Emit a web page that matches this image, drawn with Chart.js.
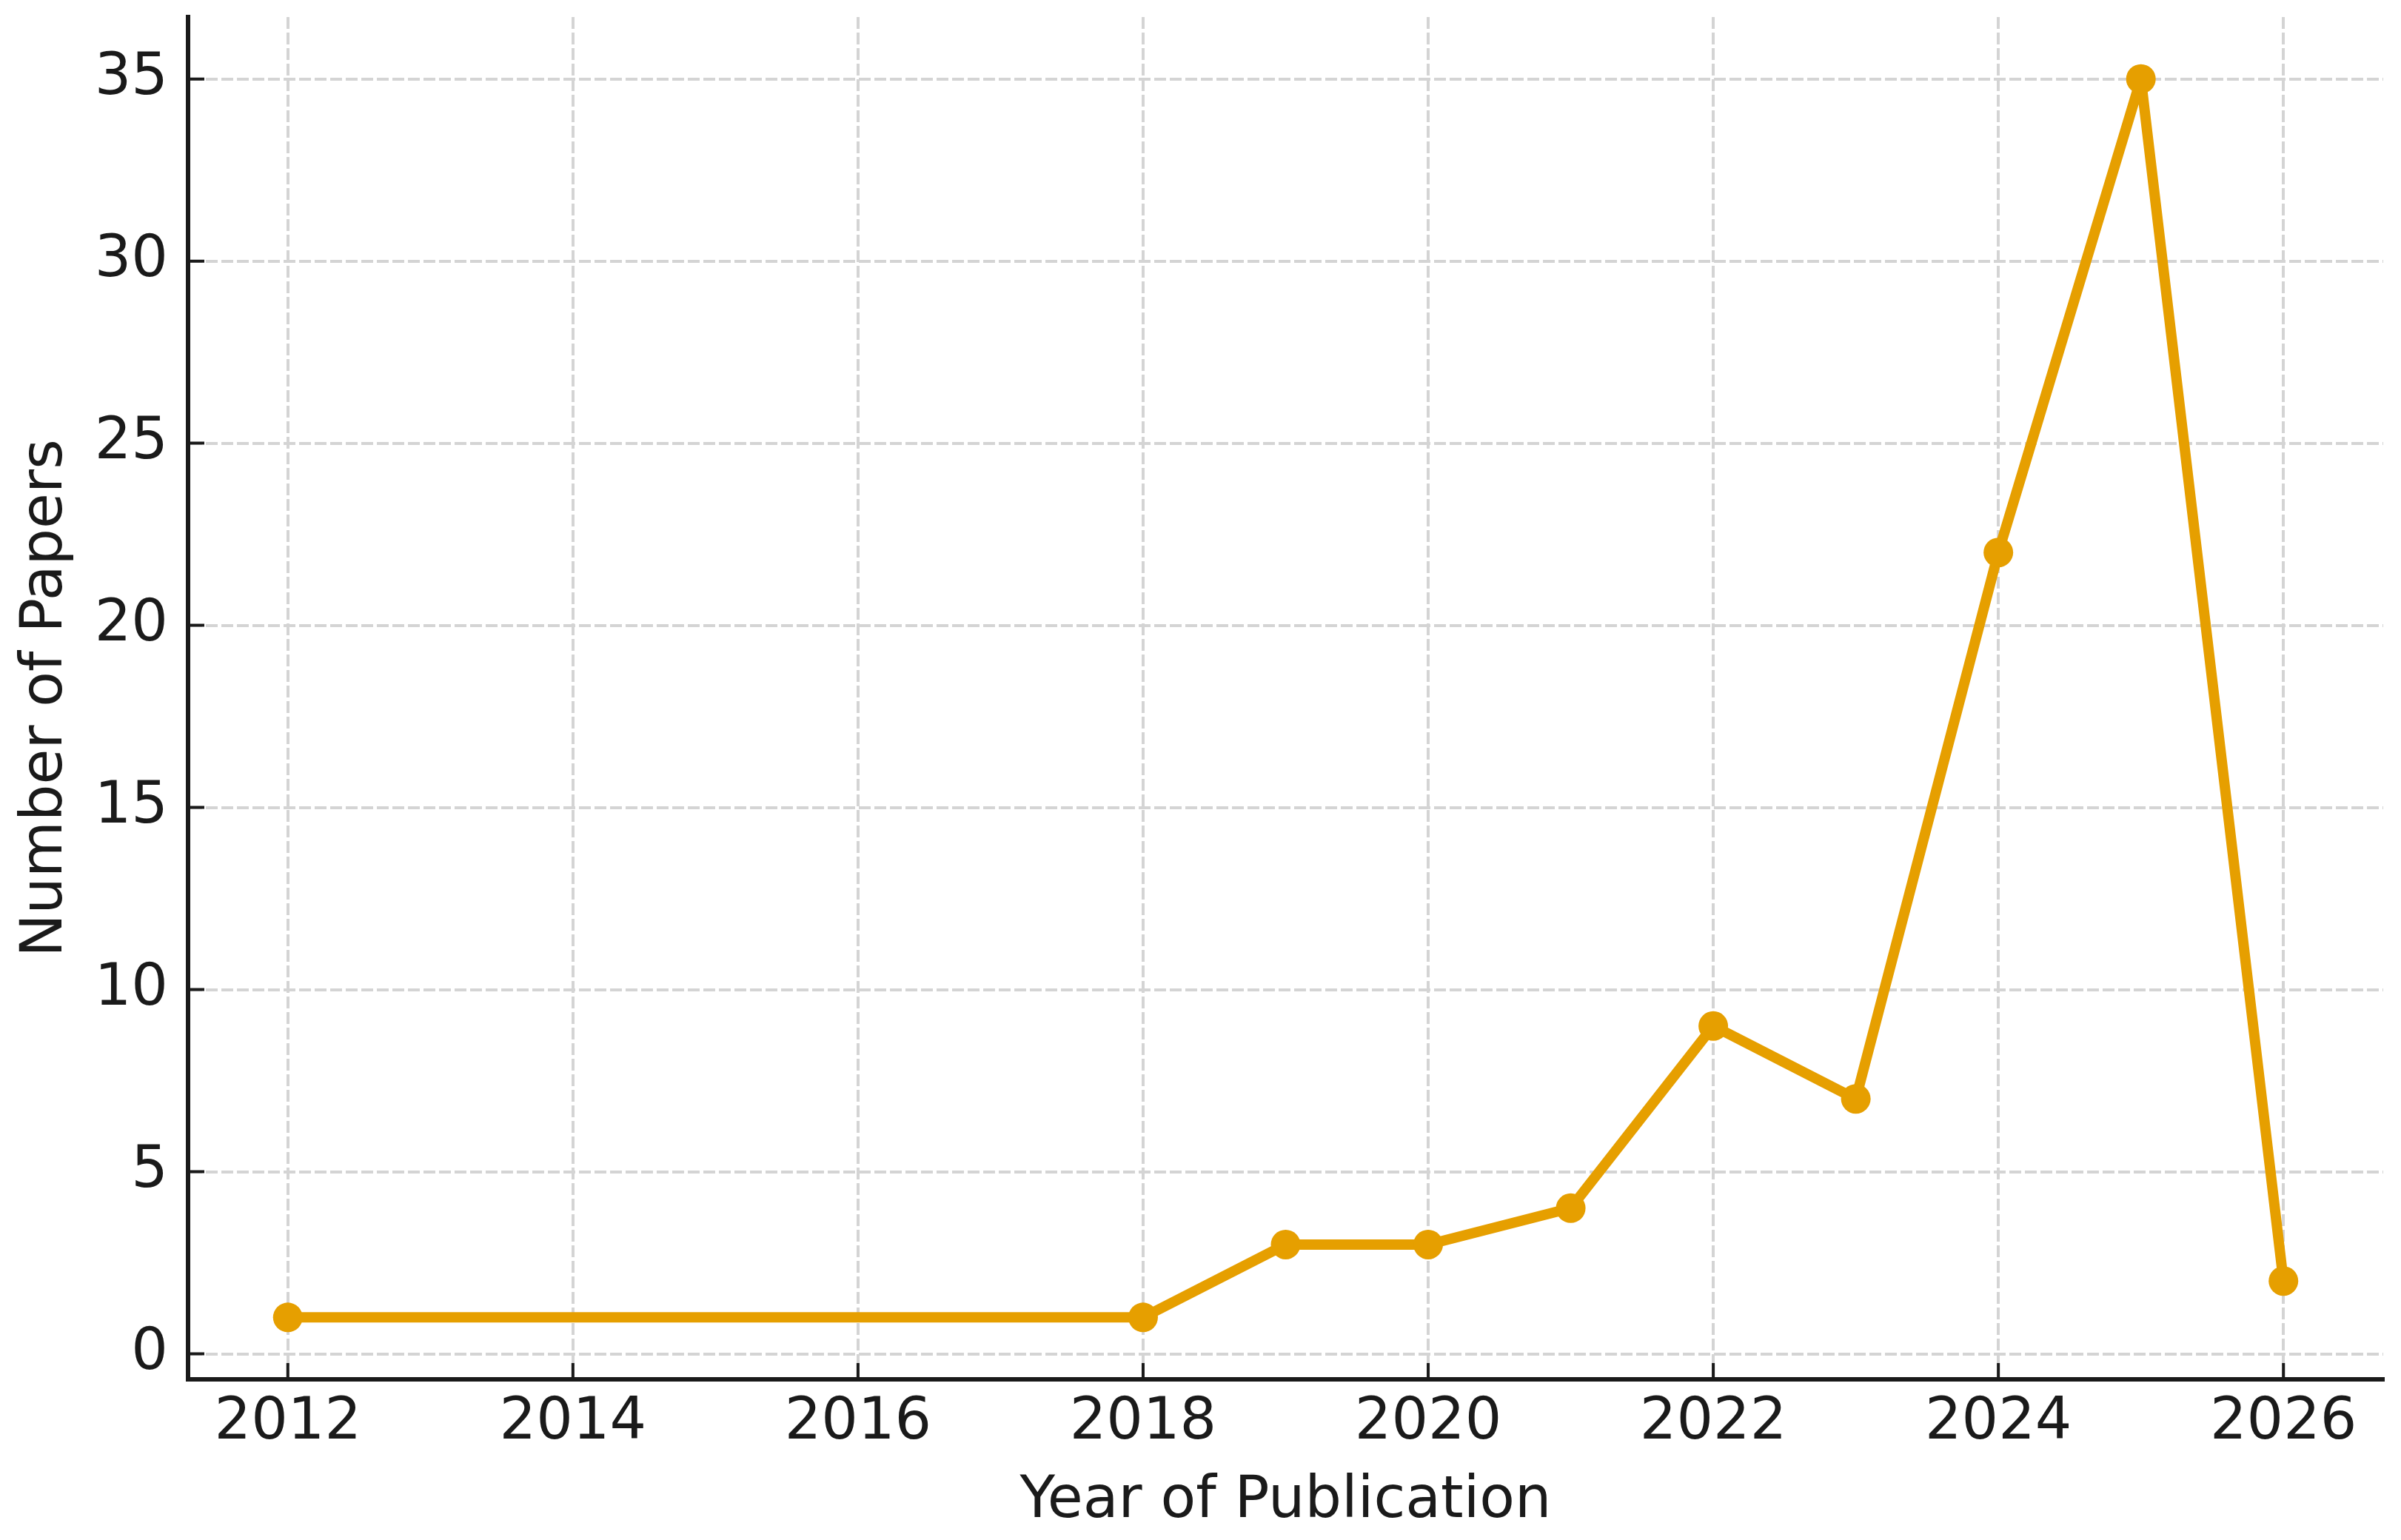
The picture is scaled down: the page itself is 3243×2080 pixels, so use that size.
<!DOCTYPE html>
<html>
<head>
<meta charset="utf-8">
<script src="https://cdn.jsdelivr.net/npm/chart.js@4"></script>
<style>
  html, body { margin: 0; padding: 0; background: #fff; }
  #paperChart { display: block; }
</style>
</head>
<body>
<canvas id="paperChart" width="3243" height="2080"></canvas>
<script>
// data
const years = [2012, 2018, 2019, 2020, 2021, 2022, 2023, 2024, 2025, 2026];
const papers = [1, 1, 3, 3, 4, 9, 7, 22, 35, 2];
const xTicks = [2012, 2014, 2016, 2018, 2020, 2022, 2024, 2026];
const yTicks = [0, 5, 10, 15, 20, 25, 30, 35];

const ink = '#1a1a1a';
const orange = '#E69F00';
const font = { family: '"DejaVu Sans"', size: 78 };

// matplotlib style inward ticks
const inwardTicks = {
    id: 'inwardTicks',
    afterDraw(chart) {
        const c = chart.ctx;
        const area = chart.chartArea;
        const xs = chart.scales.x, ys = chart.scales.y;
        c.save();
        c.strokeStyle = ink;
        c.lineWidth = 4;
        c.beginPath();
        xTicks.forEach(v => {
            const px = xs.getPixelForValue(v);
            c.moveTo(px, area.bottom);
            c.lineTo(px, area.bottom - 22);
        });
        yTicks.forEach(v => {
            const py = ys.getPixelForValue(v);
            c.moveTo(area.left, py);
            c.lineTo(area.left + 22, py);
        });
        c.stroke();
        c.restore();
    }
};

const ctx = document.getElementById('paperChart').getContext('2d');

new Chart(ctx, {
    type: 'line',
    data: {
        datasets: [{
            label: 'Papers',
            data: years.map((y, i) => ({ x: y, y: papers[i] })),
            borderColor: orange,
            backgroundColor: orange,
            borderWidth: 14,
            borderJoinStyle: 'round',
            pointRadius: 20,
            pointBorderWidth: 0,
            pointBackgroundColor: orange,
            tension: 0,
            clip: false
        }]
    },
    options: {
        responsive: false,
        devicePixelRatio: 1,
        animation: false,
        layout: { padding: { left: 0, top: 23, right: 24, bottom: 0 } },
        plugins: {
            legend: { display: false },
            tooltip: { enabled: false }
        },
        scales: {
            x: {
                type: 'linear',
                min: 2011.3,
                max: 2026.7,
                afterBuildTicks: s => { s.ticks = xTicks.map(v => ({ value: v })); },
                afterFit: s => {
                    s.height = 2080 - 1863;
                    s.paddingLeft = 0; s.paddingRight = 0;
                },
                ticks: {
                    color: ink,
                    font: font,
                    padding: 13,
                    maxRotation: 0,
                    autoSkip: false,
                    callback: v => String(v)
                },
                grid: { color: '#d4d4d4', lineWidth: 4, drawTicks: false },
                border: { display: true, color: ink, width: 6, dash: [16, 5] },
                title: {
                    display: true,
                    text: 'Year of Publication',
                    color: ink,
                    font: font,
                    padding: { top: 0, bottom: 4 }
                }
            },
            y: {
                type: 'linear',
                min: -0.7,
                max: 36.7,
                afterBuildTicks: s => { s.ticks = yTicks.map(v => ({ value: v })); },
                afterFit: s => {
                    s.width = 254;
                    s.paddingTop = 0; s.paddingBottom = 0;
                },
                ticks: {
                    color: ink,
                    font: font,
                    padding: 27,
                    autoSkip: false
                },
                grid: { color: '#d4d4d4', lineWidth: 4, drawTicks: false },
                border: { display: true, color: ink, width: 6, dash: [16, 5] },
                title: {
                    display: true,
                    text: 'Number of Papers',
                    color: ink,
                    font: font,
                    padding: { top: 16, bottom: 0 }
                }
            }
        }
    },
    plugins: [inwardTicks]
});
</script>
</body>
</html>
